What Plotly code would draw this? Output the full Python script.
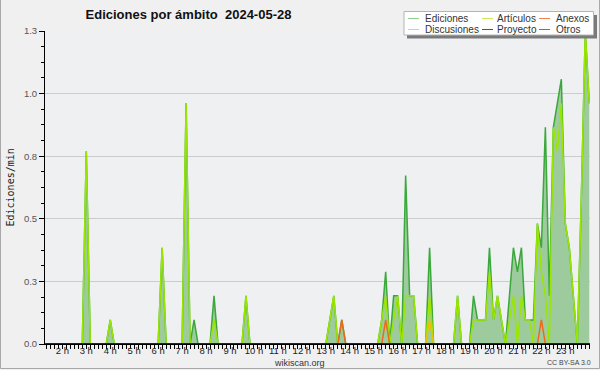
import pandas as pd
import plotly.graph_objects as go

# ---------------- data (edits per minute, 10-minute bins) ----------------
TIMES = pd.date_range("2024-05-28 01:20", "2024-05-29 00:00", freq="10min")

EDICIONES = [
    0, 0, 0, 0,                       # 01:20-01:50
    0, 0, 0, 0, 0, 0,                 # 02
    0.8, 0, 0, 0, 0, 0,               # 03
    0.1, 0, 0, 0, 0, 0,               # 04
    0, 0, 0, 0, 0, 0,                 # 05
    0, 0.4, 0, 0, 0, 0,               # 06
    0, 1.0, 0, 0.1, 0, 0,             # 07
    0, 0, 0.2, 0, 0, 0,               # 08
    0, 0, 0, 0, 0.2, 0,               # 09
    0, 0, 0, 0, 0, 0,                 # 10
    0, 0, 0, 0, 0, 0,                 # 11
    0, 0, 0, 0, 0, 0,                 # 12
    0, 0.1, 0.2, 0, 0.1, 0,           # 13
    0, 0, 0, 0, 0, 0,                 # 14
    0, 0, 0.1, 0.3, 0, 0.2,           # 15
    0.2, 0, 0.7, 0.2, 0.2, 0,         # 16
    0, 0, 0.4, 0, 0, 0,               # 17
    0, 0, 0, 0.2, 0, 0,               # 18
    0, 0.2, 0.1, 0.1, 0.1, 0.4,       # 19
    0.1, 0.2, 0.1, 0, 0.2, 0.4,       # 20
    0.3, 0.4, 0.1, 0.1, 0.1, 0.5,     # 21
    0.4, 0.9, 0.2, 0.9, 1.0, 1.1,     # 22
    0.5, 0.4, 0.2, 0, 0.6, 1.3,       # 23
    1.0,                              # 24:00
]

ARTICULOS = [
    0, 0, 0, 0,
    0, 0, 0, 0, 0, 0,
    0.8, 0, 0, 0, 0, 0,
    0.1, 0, 0, 0, 0, 0,
    0, 0, 0, 0, 0, 0,
    0, 0.4, 0, 0, 0, 0,
    0, 1.0, 0, 0, 0, 0,
    0, 0, 0.1, 0, 0, 0,
    0, 0, 0, 0, 0.2, 0,
    0, 0, 0, 0, 0, 0,
    0, 0, 0, 0, 0, 0,
    0, 0, 0, 0, 0, 0,
    0, 0.1, 0.2, 0, 0, 0,
    0, 0, 0, 0, 0, 0,
    0, 0, 0.1, 0.2, 0, 0.1,
    0.2, 0, 0.2, 0.2, 0.2, 0,
    0, 0, 0.2, 0, 0, 0,
    0, 0, 0, 0.2, 0, 0,
    0, 0.1, 0.1, 0.1, 0.1, 0.3,
    0.1, 0.2, 0.1, 0, 0.1, 0.2,
    0, 0.2, 0.1, 0.1, 0, 0.5,
    0.3, 0.2, 0, 0.9, 0.8, 1.0,
    0.5, 0.4, 0.2, 0, 0.6, 1.3,
    1.0,
]

ANEXOS = [
    0, 0, 0, 0,
    0, 0, 0, 0, 0, 0,
    0, 0, 0, 0, 0, 0,
    0, 0, 0, 0, 0, 0,
    0, 0, 0, 0, 0, 0,
    0, 0, 0, 0, 0, 0,
    0, 0, 0, 0, 0, 0,
    0, 0, 0, 0, 0, 0,
    0, 0, 0, 0, 0, 0,
    0, 0, 0, 0, 0, 0,
    0, 0, 0, 0, 0, 0,
    0, 0, 0, 0, 0, 0,
    0, 0, 0, 0, 0.1, 0,
    0, 0, 0, 0, 0, 0,
    0, 0, 0, 0.1, 0, 0,
    0, 0, 0, 0, 0, 0,
    0, 0, 0, 0, 0, 0,
    0, 0, 0, 0, 0, 0,
    0, 0, 0, 0, 0, 0,
    0, 0, 0, 0, 0, 0,
    0, 0, 0, 0, 0, 0,
    0.1, 0, 0, 0, 0, 0,
    0, 0, 0, 0, 0, 0,
    0,
]

DISCUSIONES = [
    0, 0, 0, 0,
    0, 0, 0, 0, 0, 0,
    0, 0, 0, 0, 0, 0,
    0, 0, 0, 0, 0, 0,
    0, 0, 0, 0, 0, 0,
    0, 0, 0, 0, 0, 0,
    0, 0, 0, 0, 0, 0,
    0, 0, 0, 0, 0, 0,
    0, 0, 0, 0, 0, 0,
    0, 0, 0, 0, 0, 0,
    0, 0, 0, 0, 0, 0,
    0, 0, 0, 0, 0, 0,
    0, 0, 0, 0, 0, 0,
    0, 0, 0, 0, 0, 0,
    0, 0, 0, 0, 0, 0,
    0, 0, 0, 0, 0, 0,
    0, 0, 0.1, 0, 0, 0,
    0, 0, 0, 0, 0, 0,
    0, 0, 0, 0, 0, 0,
    0, 0, 0, 0, 0, 0,
    0, 0, 0, 0, 0, 0,
    0, 0, 0, 0, 0, 0,
    0, 0, 0, 0, 0, 0,
    0,
]

PROYECTO = [0] * len(TIMES)
OTROS = [0] * len(TIMES)

SERIES_NAMES = ["Ediciones", "Artículos", "Anexos", "Discusiones", "Proyecto", "Otros"]

HOUR_TICKS = [pd.Timestamp("2024-05-28") + pd.Timedelta(hours=h) for h in range(2, 24)]
HOUR_LABELS = [f"{h} h" for h in range(2, 24)]

Y_TICKS = [0, 0.26, 0.52, 0.78, 1.04, 1.3]
Y_LABELS = ["0.0", "0.3", "0.5", "0.8", "1.0", "1.3"]

TITLE = "Ediciones por ámbito  2024-05-28"
Y_TITLE = "Ediciones/min"

# ---------------- styles ----------------
LINE_COLORS = {
    "Ediciones": "#3aa83a",
    "Artículos": "#9be600",
    "Anexos": "#ee6a1a",
    "Discusiones": "#e8c400",
    "Proyecto": "#555555",
    "Otros": "#8a3ef0",
}
LEGEND_COLORS = {
    "Ediciones": "#8fd08f",
    "Artículos": "#c8ee60",
    "Anexos": "#f08050",
    "Discusiones": "#f5d040",
    "Proyecto": "#555555",
    "Otros": "#9050f0",
}

# plot area in pixels
L, R, T, B = 45, 590, 31, 344
W, H = 600, 370


def XP(px):
    return (px - L) / (R - L)


def YP(py):
    return (B - py) / (B - T)


fig = go.Figure()

values = {
    "Ediciones": EDICIONES,
    "Artículos": ARTICULOS,
    "Anexos": ANEXOS,
    "Discusiones": DISCUSIONES,
    "Proyecto": PROYECTO,
    "Otros": OTROS,
}

fig.add_trace(go.Scatter(
    x=TIMES, y=EDICIONES, name="Ediciones", mode="lines",
    line=dict(color=LINE_COLORS["Ediciones"], width=1.5),
    fill="tozeroy", fillcolor="#9ecb9e", showlegend=False,
))
for nm in ["Proyecto", "Otros", "Artículos", "Discusiones", "Anexos"]:
    fig.add_trace(go.Scatter(
        x=TIMES, y=values[nm], name=nm, mode="lines",
        line=dict(color=LINE_COLORS[nm], width=1.5 if nm not in ("Proyecto", "Otros") else 1),
        showlegend=False,
    ))

shapes = []
annotations = []

# cover zero-level lines with the baseline
shapes.append(dict(type="line", xref="paper", yref="y", x0=0, x1=1, y0=0, y1=0,
                   line=dict(color="black", width=1.5), layer="above"))

# figure border
shapes.append(dict(type="rect", xref="paper", yref="paper",
                   x0=XP(0.5), x1=XP(599.5), y0=YP(368.5), y1=YP(-3),
                   line=dict(color="#a8a8a8", width=1), fillcolor="rgba(0,0,0,0)"))

# legend box with shadow
shapes.append(dict(type="rect", xref="paper", yref="paper",
                   x0=XP(407), x1=XP(597), y0=YP(38.5), y1=YP(15),
                   line=dict(width=0), fillcolor="#7a7a7a"))
shapes.append(dict(type="rect", xref="paper", yref="paper",
                   x0=XP(404), x1=XP(593.5), y0=YP(35), y1=YP(11.5),
                   line=dict(color="#b4b4b4", width=1), fillcolor="white"))

legend_layout = [
    ("Ediciones", 408, 424, 18.5), ("Artículos", 482, 496, 18.5), ("Anexos", 539, 555, 18.5),
    ("Discusiones", 408, 424, 29.5), ("Proyecto", 482, 496, 29.5), ("Otros", 539, 555, 29.5),
]
for nm, lx, tx, ty in legend_layout:
    shapes.append(dict(type="line", xref="paper", yref="paper",
                       x0=XP(lx), x1=XP(lx + 11), y0=YP(ty), y1=YP(ty),
                       line=dict(color=LEGEND_COLORS[nm], width=1)))
    annotations.append(dict(text=nm, xref="paper", yref="paper", x=XP(tx - 1), y=YP(ty),
                            xanchor="left", yanchor="middle", showarrow=False,
                            font=dict(family="Liberation Sans", size=10, color="#333333")))

annotations.append(dict(text=Y_TITLE, xref="paper", yref="paper", x=XP(10), y=0.5,
                        textangle=-90, xanchor="center", yanchor="middle", showarrow=False,
                        font=dict(family="DejaVu Sans Mono", size=10, color="#222222")))
annotations.append(dict(text="wikiscan.org", xref="paper", yref="paper", x=XP(299.5), y=YP(362.5),
                        xanchor="center", yanchor="middle", showarrow=False,
                        font=dict(family="Liberation Sans", size=9, color="#333333")))
annotations.append(dict(text="CC BY-SA 3.0", xref="paper", yref="paper", x=XP(569), y=YP(362),
                        xanchor="center", yanchor="middle", showarrow=False,
                        font=dict(family="Liberation Sans", size=7, color="#444444")))

fig.update_layout(
    width=W, height=H,
    margin=dict(l=L, r=W - R, t=T, b=H - B, pad=0),
    paper_bgcolor="#f0f0f0",
    plot_bgcolor="#eef0f2",
    title=dict(text=TITLE, x=188.5 / W, xanchor="center", xref="container",
               y=1 - 14.5 / H, yref="container", yanchor="middle",
               font=dict(family="Liberation Sans", size=13, weight="bold", color="#111111")),
    showlegend=False,
    shapes=shapes,
    annotations=annotations,
    xaxis=dict(
        type="date",
        range=["2024-05-28 01:16:34", "2024-05-29 00:01:48"],
        tickmode="array", tickvals=HOUR_TICKS, ticktext=HOUR_LABELS,
        ticks="outside", ticklen=4, tickcolor="black", tickwidth=1,
        showline=True, linecolor="black", linewidth=1,
        showgrid=False, zeroline=False,
        ticklabelstandoff=-6,
        tickfont=dict(family="Liberation Sans", size=9.5, color="#222222"),
        minor=dict(ticks="outside", ticklen=4, tickcolor="black", tickwidth=1,
                   dtick=600000, tick0="2024-05-28 00:00", showgrid=False),
        fixedrange=True,
    ),
    yaxis=dict(
        range=[0, 1.3],
        tickmode="array", tickvals=Y_TICKS, ticktext=Y_LABELS,
        ticks="outside", ticklen=5, tickcolor="black", tickwidth=1,
        showline=True, linecolor="black", linewidth=1,
        showgrid=True, gridcolor="#cccccc", gridwidth=1, zeroline=False,
        tickfont=dict(family="Liberation Sans", size=9.5, color="#555555"),
        minor=dict(ticks="outside", ticklen=3, tickcolor="black", tickwidth=1,
                   dtick=0.065, tick0=0, showgrid=False),
        fixedrange=True,
    ),
)

fig.write_html(
    "out.html",
    config={"displayModeBar": False},
    post_script="document.body.style.margin='0';document.body.style.padding='0';",
)
